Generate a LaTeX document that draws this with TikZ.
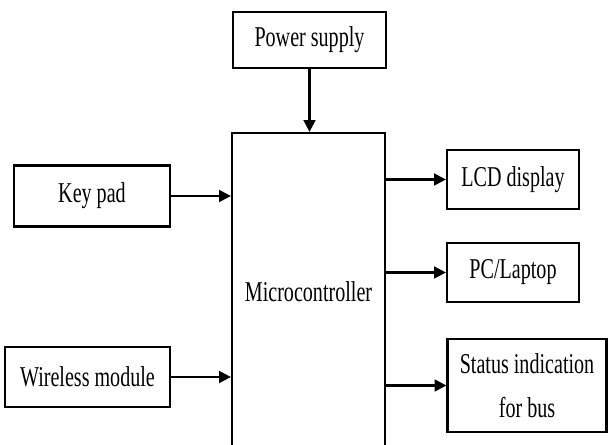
\documentclass[tikz,border=0pt]{standalone}
\usepackage{fontspec}
\setmainfont[FakeStretch=0.7]{Liberation Serif}
\usepackage{tikz}
\usetikzlibrary{arrows.meta}

\begin{document}
\begin{tikzpicture}[x=0.03cm, y=-0.03cm, >={Triangle[length=10pt, width=10pt]},
  font=\fontsize{24.5}{38}\selectfont,
  block/.style={draw, line width=1.9pt, align=center, inner sep=0pt}]
  \useasboundingbox (0,0) rectangle (608,445);
  \clip (0,0) rectangle (608,445);
  \node[block, minimum width=4.59cm, minimum height=1.68cm] (power) at (309.5,40) {Power supply};
  \node[block, minimum width=4.59cm, minimum height=9.54cm] (mcu) at (308.5,292) {Microcontroller};
  \node[block, minimum width=4.68cm, minimum height=1.83cm] (keypad) at (92,196) {Key pad};
  \node[block, minimum width=4.95cm, minimum height=1.80cm] (wireless) at (87.5,377) {Wireless module};
  \node[block, minimum width=3.96cm, minimum height=1.77cm] (lcd) at (513,179.5) {LCD display};
  \node[block, minimum width=3.96cm, minimum height=1.77cm] (pc) at (513,272.5) {PC/Laptop};
  \node[block, minimum width=4.77cm, minimum height=2.79cm] (status) at (527,385.5) {Status indication\\for bus};
  \draw[->, line width=1.9pt] (power) -- (power |- mcu.north);
  \draw[->, line width=1.9pt] (keypad) -- (keypad -| mcu.west);
  \draw[->, line width=1.9pt] (wireless) -- (wireless -| mcu.west);
  \draw[->, line width=1.9pt] (lcd -| mcu.east) -- (lcd);
  \draw[->, line width=1.9pt] (pc -| mcu.east) -- (pc);
  \draw[->, line width=1.9pt] (status -| mcu.east) -- (status);
\end{tikzpicture}
\end{document}
